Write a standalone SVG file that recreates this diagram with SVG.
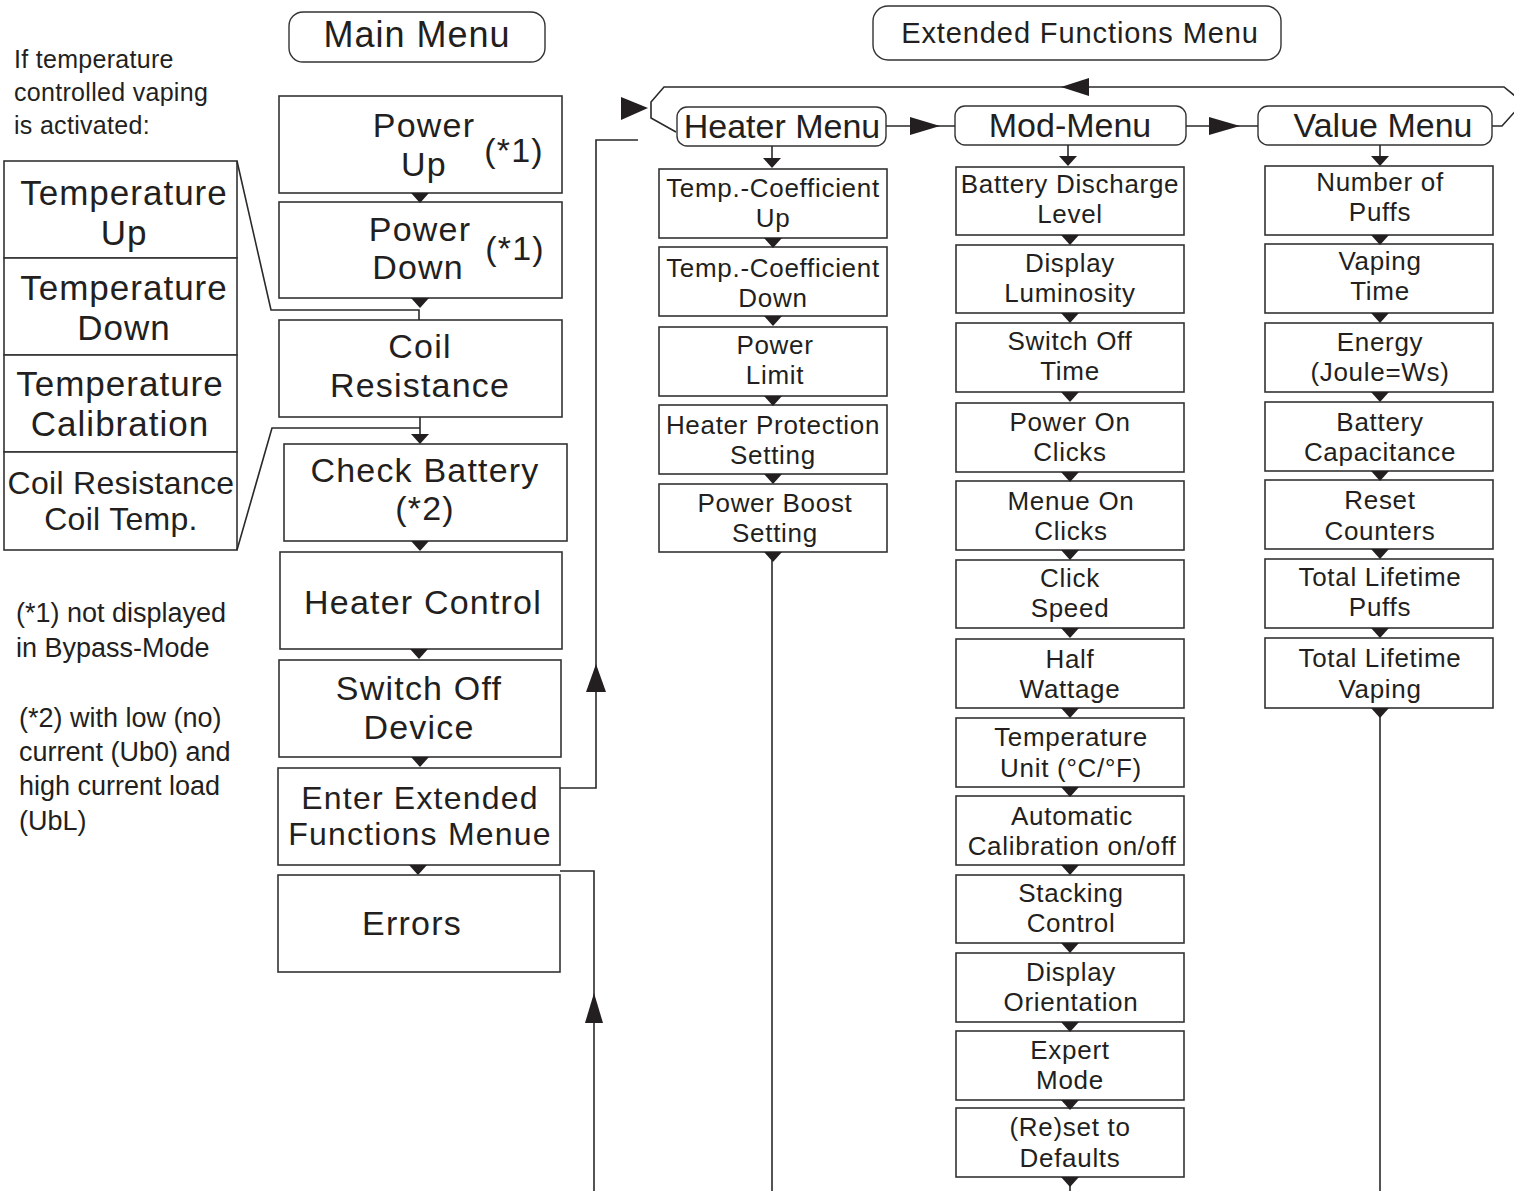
<svg xmlns="http://www.w3.org/2000/svg" width="1514" height="1191" viewBox="0 0 1514 1191">
<defs>
<style>
.box{fill:#fff;stroke:#333;stroke-width:1.6}
.hdr{fill:#fff;stroke:#333;stroke-width:1.4}
.ln{fill:none;stroke:#2a2a2a;stroke-width:1.6}
.ah{fill:#231f20;stroke:none}
text{font-family:"Liberation Sans",Arial,sans-serif;fill:#231f20}
.c{text-anchor:middle}
.m{font-size:34px;letter-spacing:1.2px}
.e{font-size:32px;letter-spacing:1.2px}
.l{font-size:35px;letter-spacing:1px}
.k{font-size:32px;letter-spacing:0.3px}
.s{font-size:26px;letter-spacing:0.7px}
.n{font-size:27px}
.t{font-size:25px;letter-spacing:0.3px}
.hm{font-size:34px}
</style>
<path id="ad" d="M-9,0 L9,0 L0,10 Z"/>
</defs>

<g id="notes">
<text class="t" x="14" y="68">If temperature</text>
<text class="t" x="14" y="101">controlled vaping</text>
<text class="t" x="14" y="134">is activated:</text>
<text class="n" x="16" y="622">(*1) not displayed</text>
<text class="n" x="16" y="657">in Bypass-Mode</text>
<text class="n" x="19" y="727">(*2) with low (no)</text>
<text class="n" x="19" y="761">current (Ub0) and</text>
<text class="n" x="19" y="795">high current load</text>
<text class="n" x="19" y="830">(UbL)</text>
</g>

<g id="main-menu-header"><rect class="hdr" x="289" y="12" width="256" height="50" rx="14"/><text class="c" style="font-size:36px;letter-spacing:1px" x="417" y="47">Main Menu</text></g>
<g id="ext-menu-header"><rect class="hdr" x="873" y="6" width="408" height="54" rx="15"/><text class="c" style="font-size:29px;letter-spacing:0.9px" x="1080" y="43">Extended Functions Menu</text></g>

<g id="temp-up"><rect class="box" x="4" y="161" width="233" height="97"/><text class="c l" x="124" y="205">Temperature</text><text class="c l" x="124" y="245">Up</text></g>
<g id="temp-down"><rect class="box" x="4" y="258" width="233" height="97"/><text class="c l" x="124" y="300">Temperature</text><text class="c l" x="124" y="340">Down</text></g>
<g id="temp-cal"><rect class="box" x="4" y="355" width="233" height="97"/><text class="c l" x="120" y="396">Temperature</text><text class="c l" x="120" y="436">Calibration</text></g>
<g id="coil-temp"><rect class="box" x="4" y="452" width="233" height="98"/><text class="c k" x="121" y="494">Coil Resistance</text><text class="c k" x="121" y="530">Coil Temp.</text></g>

<g id="power-up"><rect class="box" x="279" y="96" width="283" height="97"/><text class="c m" x="424" y="137">Power</text><text class="c m" x="424" y="176">Up</text><text class="c m" x="514" y="162">(*1)</text></g>
<g id="power-down"><rect class="box" x="279" y="202" width="283" height="96"/><text class="c m" x="420" y="241">Power</text><text class="c m" x="418" y="279">Down</text><text class="c m" x="515" y="260">(*1)</text></g>
<g id="coil-resistance"><rect class="box" x="279" y="320" width="283" height="97"/><text class="c m" x="420" y="358">Coil</text><text class="c m" x="420" y="397">Resistance</text></g>
<g id="check-battery"><rect class="box" x="284" y="444" width="283" height="97"/><text class="c m" x="425" y="482">Check Battery</text><text class="c m" x="425" y="520">(*2)</text></g>
<g id="heater-control"><rect class="box" x="280" y="552" width="282" height="97"/><text class="c m" x="423" y="614">Heater Control</text></g>
<g id="switch-off-device"><rect class="box" x="279" y="660" width="282" height="97"/><text class="c m" x="419" y="700">Switch Off</text><text class="c m" x="419" y="739">Device</text></g>
<g id="enter-extended"><rect class="box" x="278" y="768" width="282" height="97"/><text class="c e" x="420" y="809">Enter Extended</text><text class="c e" x="420" y="845">Functions Menue</text></g>
<g id="errors"><rect class="box" x="278" y="875" width="282" height="97"/><text class="c m" x="412" y="935">Errors</text></g>

<g id="heater-menu"><rect class="hdr" x="677" y="107" width="209" height="39" rx="10"/><text class="c hm" x="782" y="138">Heater Menu</text></g>
<g id="mod-menu"><rect class="hdr" x="955" y="106" width="231" height="39" rx="10"/><text class="c hm" x="1070" y="137">Mod-Menu</text></g>
<g id="value-menu"><rect class="hdr" x="1258" y="106" width="234" height="39" rx="10"/><text class="c hm" x="1383" y="137">Value Menu</text></g>

<g id="h1"><rect class="box" x="659" y="169" width="228" height="69"/><text class="c s" x="773" y="197">Temp.-Coefficient</text><text class="c s" x="773" y="227">Up</text></g>
<g id="h2"><rect class="box" x="659" y="247" width="228" height="69"/><text class="c s" x="773" y="277">Temp.-Coefficient</text><text class="c s" x="773" y="307">Down</text></g>
<g id="h3"><rect class="box" x="659" y="327" width="228" height="69"/><text class="c s" x="775" y="354">Power</text><text class="c s" x="775" y="384">Limit</text></g>
<g id="h4"><rect class="box" x="659" y="405" width="228" height="69"/><text class="c s" x="773" y="434">Heater Protection</text><text class="c s" x="773" y="464">Setting</text></g>
<g id="h5"><rect class="box" x="659" y="484" width="228" height="68"/><text class="c s" x="775" y="512">Power Boost</text><text class="c s" x="775" y="542">Setting</text></g>

<g id="m1"><rect class="box" x="956" y="167" width="228" height="68"/><text class="c s" x="1070" y="193">Battery Discharge</text><text class="c s" x="1070" y="223">Level</text></g>
<g id="m2"><rect class="box" x="956" y="245" width="228" height="68"/><text class="c s" x="1070" y="272">Display</text><text class="c s" x="1070" y="302">Luminosity</text></g>
<g id="m3"><rect class="box" x="956" y="323" width="228" height="69"/><text class="c s" x="1070" y="350">Switch Off</text><text class="c s" x="1070" y="380">Time</text></g>
<g id="m4"><rect class="box" x="956" y="403" width="228" height="69"/><text class="c s" x="1070" y="431">Power On</text><text class="c s" x="1070" y="461">Clicks</text></g>
<g id="m5"><rect class="box" x="956" y="481" width="228" height="69"/><text class="c s" x="1071" y="510">Menue On</text><text class="c s" x="1071" y="540">Clicks</text></g>
<g id="m6"><rect class="box" x="956" y="560" width="228" height="68"/><text class="c s" x="1070" y="587">Click</text><text class="c s" x="1070" y="617">Speed</text></g>
<g id="m7"><rect class="box" x="956" y="639" width="228" height="69"/><text class="c s" x="1070" y="668">Half</text><text class="c s" x="1070" y="698">Wattage</text></g>
<g id="m8"><rect class="box" x="956" y="718" width="228" height="69"/><text class="c s" x="1071" y="746">Temperature</text><text class="c s" x="1071" y="777">Unit (°C/°F)</text></g>
<g id="m9"><rect class="box" x="956" y="796" width="228" height="69"/><text class="c s" x="1072" y="825">Automatic</text><text class="c s" x="1072" y="855">Calibration on/off</text></g>
<g id="m10"><rect class="box" x="956" y="875" width="228" height="68"/><text class="c s" x="1071" y="902">Stacking</text><text class="c s" x="1071" y="932">Control</text></g>
<g id="m11"><rect class="box" x="956" y="953" width="228" height="69"/><text class="c s" x="1071" y="981">Display</text><text class="c s" x="1071" y="1011">Orientation</text></g>
<g id="m12"><rect class="box" x="956" y="1031" width="228" height="69"/><text class="c s" x="1070" y="1059">Expert</text><text class="c s" x="1070" y="1089">Mode</text></g>
<g id="m13"><rect class="box" x="956" y="1108" width="228" height="69"/><text class="c s" x="1070" y="1136">(Re)set to</text><text class="c s" x="1070" y="1167">Defaults</text></g>

<g id="v1"><rect class="box" x="1265" y="166" width="228" height="69"/><text class="c s" x="1380" y="191">Number of</text><text class="c s" x="1380" y="221">Puffs</text></g>
<g id="v2"><rect class="box" x="1265" y="244" width="228" height="69"/><text class="c s" x="1380" y="270">Vaping</text><text class="c s" x="1380" y="300">Time</text></g>
<g id="v3"><rect class="box" x="1265" y="323" width="228" height="69"/><text class="c s" x="1380" y="351">Energy</text><text class="c s" x="1380" y="381">(Joule=Ws)</text></g>
<g id="v4"><rect class="box" x="1265" y="402" width="228" height="69"/><text class="c s" x="1380" y="431">Battery</text><text class="c s" x="1380" y="461">Capacitance</text></g>
<g id="v5"><rect class="box" x="1265" y="480" width="228" height="69"/><text class="c s" x="1380" y="509">Reset</text><text class="c s" x="1380" y="540">Counters</text></g>
<g id="v6"><rect class="box" x="1265" y="559" width="228" height="69"/><text class="c s" x="1380" y="586">Total Lifetime</text><text class="c s" x="1380" y="616">Puffs</text></g>
<g id="v7"><rect class="box" x="1265" y="638" width="228" height="70"/><text class="c s" x="1380" y="667">Total Lifetime</text><text class="c s" x="1380" y="698">Vaping</text></g>

<g id="connectors">
<path class="ln" d="M237,161 L271,310 H419 V320"/>
<path class="ln" d="M420,417 V436 M420,428 H272 L237,550"/>
<path class="ln" d="M560,788 H596 V140 H638"/>
<path class="ln" d="M560,871 H594 V1191"/>
<path class="ln" d="M676,132 L651,118 L651,102 L664,87 L1504,87 L1520,100"/>
<path class="ln" d="M1492,126 L1502,126 L1520,106"/>
<path class="ln" d="M886,126 H955 M1186,126 H1258"/>
<path class="ln" d="M772,146 V160 M1068,145 V158 M1380,145 V158"/>
<path class="ln" d="M772,560 V1191 M1070,1186 V1191 M1380,716 V1191"/>
<polygon class="ah" points="621,97 621,120 648,108"/>
<polygon class="ah" points="1061,87 1089,78 1089,96"/>
<polygon class="ah" points="910,117 910,135 940,126"/>
<polygon class="ah" points="1209,117 1209,135 1240,126"/>
<polygon class="ah" points="596,664 586,692 606,692"/>
<polygon class="ah" points="594,993 585,1023 603,1023"/>
<use href="#ad" class="ah" x="420" y="193"/>
<use href="#ad" class="ah" x="420" y="298"/>
<use href="#ad" class="ah" x="420" y="434"/>
<use href="#ad" class="ah" x="420" y="541"/>
<use href="#ad" class="ah" x="419" y="649"/>
<use href="#ad" class="ah" x="420" y="757"/>
<use href="#ad" class="ah" x="418" y="865"/>
<use href="#ad" class="ah" x="772" y="158"/>
<use href="#ad" class="ah" x="773" y="238"/>
<use href="#ad" class="ah" x="773" y="316"/>
<use href="#ad" class="ah" x="773" y="396"/>
<use href="#ad" class="ah" x="773" y="474"/>
<use href="#ad" class="ah" x="773" y="552"/>
<use href="#ad" class="ah" x="1068" y="156"/>
<use href="#ad" class="ah" x="1070" y="235"/>
<use href="#ad" class="ah" x="1070" y="313"/>
<use href="#ad" class="ah" x="1070" y="392"/>
<use href="#ad" class="ah" x="1070" y="472"/>
<use href="#ad" class="ah" x="1070" y="550"/>
<use href="#ad" class="ah" x="1070" y="628"/>
<use href="#ad" class="ah" x="1070" y="708"/>
<use href="#ad" class="ah" x="1070" y="787"/>
<use href="#ad" class="ah" x="1070" y="865"/>
<use href="#ad" class="ah" x="1070" y="943"/>
<use href="#ad" class="ah" x="1070" y="1022"/>
<use href="#ad" class="ah" x="1070" y="1100"/>
<use href="#ad" class="ah" x="1070" y="1177"/>
<use href="#ad" class="ah" x="1380" y="156"/>
<use href="#ad" class="ah" x="1380" y="235"/>
<use href="#ad" class="ah" x="1380" y="313"/>
<use href="#ad" class="ah" x="1380" y="392"/>
<use href="#ad" class="ah" x="1380" y="471"/>
<use href="#ad" class="ah" x="1380" y="549"/>
<use href="#ad" class="ah" x="1380" y="628"/>
<use href="#ad" class="ah" x="1380" y="708"/>
</g>
</svg>
